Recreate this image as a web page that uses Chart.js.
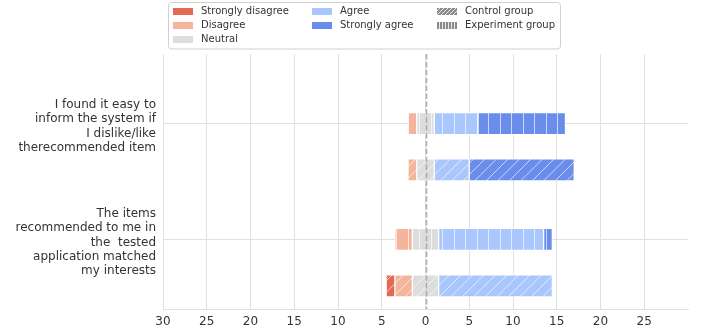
<!DOCTYPE html>
<html>
<head>
<meta charset="utf-8">
<script src="https://cdn.jsdelivr.net/npm/chart.js@4/dist/chart.umd.min.js"></script>
<style>
  html, body { margin: 0; padding: 0; background: #ffffff; }
  #wrap { position: relative; width: 703px; height: 333px; }
</style>
</head>
<body>
<div id="wrap"><canvas id="chart" width="703" height="333"></canvas></div>
<script>
// Survey statements (wrapped into lines for the axis labels)
const questions = [
  ['I found it easy to', 'inform the system if', 'I dislike/like', 'therecommended item'],
  ['The items', 'recommended to me in', 'the  tested', 'application matched', 'my interests']
];

// Likert answer levels and their colours
const levels = ['Strongly disagree', 'Disagree', 'Neutral', 'Agree', 'Strongly agree'];
const levelColors = ['#e26a54', '#f5b59c', '#dcdddd', '#aac7fd', '#6a8dec'];

// Number of answers per level (same order as levels), one array per question
const controlQ1 = [0, 1, 2, 4, 12];
const controlQ2 = [1, 2, 3, 13, 0];
const experimentQ1 = [0, 1, 2, 5, 10];
const experimentQ2 = [0, 2, 3, 12, 1];

const groups = ['Control group', 'Experiment group'];

// x axis: counts on both sides of the neutral centre
const xMin = -30;
const xMax = 30;
const xStep = 5;

const FONT = 'DejaVu Sans';

// ---- hatch patterns ----
function hatchPattern(color, kind, size, gap, alpha) {
  const c = document.createElement('canvas');
  c.width = size; c.height = size;
  const g = c.getContext('2d');
  g.fillStyle = color;
  g.fillRect(0, 0, size, size);
  g.strokeStyle = 'rgba(255,255,255,' + alpha + ')';
  g.lineWidth = 1;
  g.beginPath();
  if (kind === 'vertical') {
    for (let x = gap / 2; x < size; x += gap) {
      const px = Math.floor(x) + 0.5;
      g.moveTo(px, 0); g.lineTo(px, size);
    }
  } else {
    for (let k = 0; k <= 2 * size + gap; k += gap) {
      g.moveTo(k + 2, -2); g.lineTo(-2, k + 2);
    }
  }
  g.stroke();
  return g.createPattern(c, 'repeat');
}

// ---- diverging segments: neutral block centred on zero ----
function segments(counts) {
  let start = -(counts[0] + counts[1] + counts[2] / 2);
  return counts.map(c => { const s = start; start += c; return [s, start]; });
}

const groupRows = [
  { name: 'Experiment group', counts: [experimentQ1, experimentQ2], offset: 0, hatch: 'vertical' },
  { name: 'Control group', counts: [controlQ1, controlQ2], offset: 0.4, hatch: 'diagonal' }
];

const datasets = [];
groupRows.forEach(grp => {
  const segs = grp.counts.map(segments);
  levels.forEach((lvl, k) => {
    const data = [];
    grp.counts.forEach((counts, qi) => {
      if (counts[k] > 0) data.push({ y: qi + grp.offset, x: segs[qi][k] });
    });
    datasets.push({
      label: lvl + ' (' + grp.name + ')',
      data: data,
      backgroundColor: hatchPattern(levelColors[k], grp.hatch, 23, 11.5, 0.65),
      borderColor: 'rgba(255,255,255,0.9)',
      borderWidth: 1,
      borderSkipped: false,
      barThickness: 22,
      grouped: false
    });
  });
});

// dashed line at zero, over the bars
const zeroLine = {
  id: 'zeroLine',
  afterDatasetsDraw(chart) {
    const { ctx, chartArea, scales } = chart;
    const x = Math.round(scales.x.getPixelForValue(0)) + 0.5;
    ctx.save();
    ctx.strokeStyle = '#ababab';
    ctx.lineWidth = 1.5;
    ctx.setLineDash([5.5, 2.4]);
    ctx.beginPath();
    ctx.moveTo(x, chartArea.top);
    ctx.lineTo(x, chartArea.bottom);
    ctx.stroke();
    ctx.restore();
  }
};

// three-column legend box above the plot
const legendBox = {
  id: 'legendBox',
  afterDraw(chart) {
    const ctx = chart.ctx;
    ctx.save();
    const bx = 168.5, by = 2.5, bw = 392, bh = 46.5;
    ctx.fillStyle = 'rgba(255,255,255,0.85)';
    ctx.strokeStyle = '#d0d0d0';
    ctx.lineWidth = 1;
    ctx.beginPath();
    ctx.roundRect(bx, by, bw, bh, 3);
    ctx.fill();
    ctx.stroke();

    const items = [
      ...levels.map((l, i) => ({ text: l, fill: levelColors[i] })),
      { text: groups[0], fill: hatchPattern('#8a8a8a', 'diagonal', 8, 4, 0.8) },
      { text: groups[1], fill: hatchPattern('#8a8a8a', 'vertical', 6, 3, 0.8) }
    ];
    const cols = [[0, 1, 2], [3, 4], [5, 6]];
    const colX = [173, 312, 437];
    const rowY = [11.5, 25.5, 39.5];
    ctx.font = '10px "' + FONT + '"';
    ctx.textBaseline = 'middle';
    ctx.textAlign = 'left';
    cols.forEach((col, ci) => {
      col.forEach((idx, ri) => {
        const it = items[idx];
        const x = colX[ci], y = rowY[ri];
        ctx.fillStyle = it.fill;
        ctx.fillRect(x, y - 3.5, 20, 7);
        ctx.fillStyle = '#333333';
        ctx.fillText(it.text, x + 28, y);
      });
    });
    ctx.restore();
  }
};

new Chart(document.getElementById('chart'), {
  type: 'bar',
  data: { datasets: datasets },
  options: {
    indexAxis: 'y',
    responsive: false,
    animation: false,
    devicePixelRatio: 1,
    layout: { padding: { top: 54, right: 15, left: 0, bottom: 0 } },
    plugins: {
      legend: { display: false },
      tooltip: { enabled: false }
    },
    scales: {
      x: {
        type: 'linear',
        min: xMin,
        max: xMax,
        ticks: {
          stepSize: xStep,
          autoSkip: false,
          maxRotation: 0,
          padding: 6,
          color: '#333333',
          font: { family: FONT, size: 12 },
          callback: v => (v === xMax ? '' : String(Math.abs(v)))
        },
        grid: {
          drawTicks: false,
          color: c => (c.tick && c.tick.value === xMax ? 'rgba(0,0,0,0)' : '#e0e0e0')
        },
        border: { display: true, color: '#e0e0e0' },
        afterFit: s => { s.height = 24; s.paddingLeft = 0; s.paddingRight = 0; }
      },
      y: {
        type: 'linear',
        reverse: true,
        min: -0.6,
        max: 1.6,
        offset: false,
        afterBuildTicks: s => { s.ticks = questions.map((q, i) => ({ value: i })); },
        afterFit: s => { s.width = 163; s.paddingTop = 0; s.paddingBottom = 0; },
        ticks: {
          autoSkip: false,
          padding: 7,
          labelOffset: 3,
          color: '#333333',
          font: { family: FONT, size: 12 },
          callback: v => questions[v]
        },
        grid: { drawTicks: false, offset: false, color: '#e0e0e0' },
        border: { display: false }
      }
    }
  },
  plugins: [zeroLine, legendBox]
});
</script>
</body>
</html>
